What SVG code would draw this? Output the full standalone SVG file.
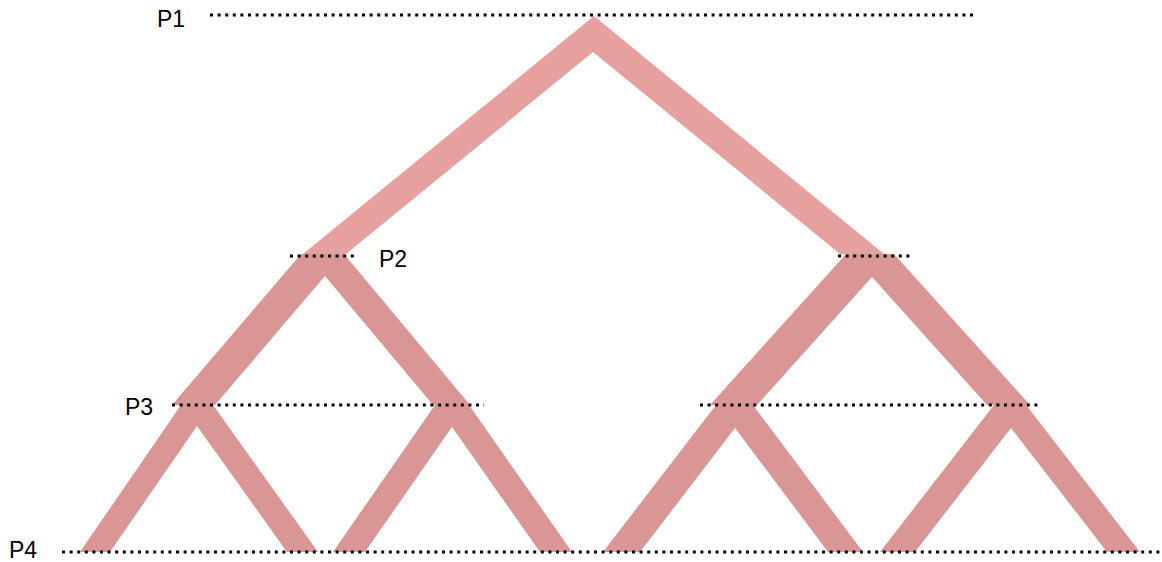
<svg xmlns="http://www.w3.org/2000/svg" width="1162" height="562" viewBox="0 0 1162 562">
<style>
.l1{fill:#E6A19F}
.l2{fill:#D99694}
.dot{stroke:#000;stroke-width:3;stroke-dasharray:3 4.6;fill:none}
.lbl{font-family:"Liberation Sans",Arial,sans-serif;font-size:23px;fill:#000}
</style>
<rect width="1162" height="562" fill="#fff"/>
<g id="connectors">
<polygon id="b1" class="l1" points="594,16 884,254 840,254 593,52 346,254 303,254"/>
<polygon id="b2a" class="l2" points="301,254 344,254 470,405 433,405 325,276 215,405 172,405"/>
<polygon id="b2b" class="l2" points="846,254 894,254 1030,405 987,405 872,277 757,405 710,405"/>
<polygon id="b3a" class="l2" points="181,405 213,405 318,552 287,552 197,426 110,552 80,552"/>
<polygon id="b3b" class="l2" points="435,405 469,405 572,552 540,552 452,427 365,552 333,552"/>
<polygon id="b3c" class="l2" points="716,405 753,405 863,552 828,552 735,428 640,552 603,552"/>
<polygon id="b3d" class="l2" points="994,405 1026,405 1140,552 1107,552 1011,428 915,552 880,552"/>
</g>
<g id="levels">
<g id="P1"><line class="dot" x1="210" y1="15" x2="973" y2="15"/><text class="lbl" x="157" y="27">P1</text></g>
<g id="P2"><line class="dot" x1="290" y1="256" x2="357" y2="256"/><line class="dot" x1="838" y1="256" x2="910" y2="256"/><text class="lbl" x="379" y="267">P2</text></g>
<g id="P3"><line class="dot" x1="172" y1="405" x2="484" y2="405"/><line class="dot" x1="700" y1="405" x2="1038" y2="405"/><text class="lbl" x="125" y="415">P3</text></g>
<g id="P4"><line class="dot" x1="62" y1="552" x2="1160" y2="552"/><text class="lbl" x="9" y="558">P4</text></g>
</g>
</svg>
